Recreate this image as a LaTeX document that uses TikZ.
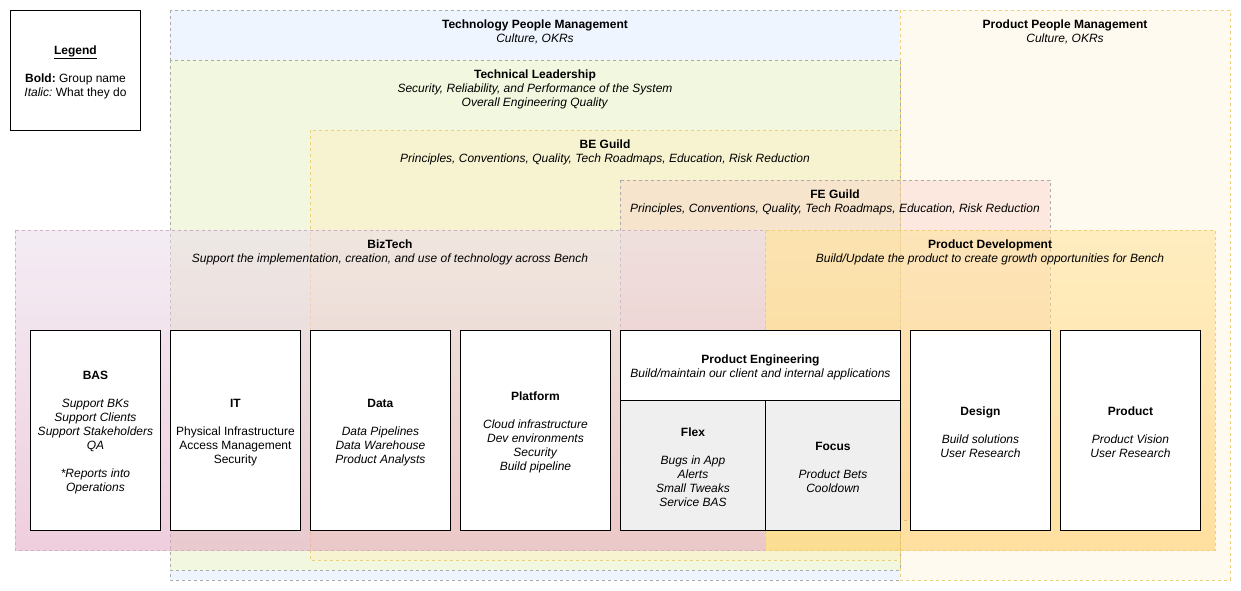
\documentclass[tikz,border=0pt]{standalone}
\usepackage{fontspec}
\setmainfont{Liberation Sans}
\usetikzlibrary{calc}
\frenchspacing
\definecolor{tpmfill}{HTML}{EEF5FE}
\definecolor{ppmfill}{HTML}{FFFAEF}
\definecolor{tlfill}{HTML}{F2F7DF}
\definecolor{begfill}{HTML}{FFF0C0}
\definecolor{fegfill}{HTML}{F8CFC8}
\definecolor{grayline}{HTML}{ABABAB}
\definecolor{yelline}{HTML}{EBD27A}
\definecolor{pinkline}{HTML}{CDB0C2}
\definecolor{btop}{HTML}{EADDEB}
\definecolor{bbot}{HTML}{E2A6C2}
\definecolor{pdtop}{HTML}{FFE39A}
\definecolor{pdbot}{HTML}{FFCB60}
\definecolor{subfill}{HTML}{EFEFEF}
\begin{document}
\begin{tikzpicture}[x=1pt,y=-1pt,
  region/.style={dashed, dash pattern=on 3pt off 3pt, line width=0.6pt},
  lbl/.style={align=center, inner sep=0pt, font=\fontsize{12}{14}\selectfont},
  box/.style={draw=black, fill=white, line width=0.9pt, inner sep=0pt, anchor=north west},
  subbox/.style={box, fill=subfill}
]
\useasboundingbox (0,0) rectangle (1241,591);
% regions
\path[region, fill=tpmfill, draw=grayline] (170,10) rectangle (900,580);
\path[region, fill=ppmfill, draw=yelline] (900,10) rectangle (1230,580);
\path[region, fill=tlfill, draw=grayline] (170,60) rectangle (900,570);
\path[region, fill=begfill, fill opacity=0.45, draw=yelline] (310,130) rectangle (900,560);
\path[region, fill=fegfill, fill opacity=0.4, draw=grayline] (620,180) rectangle (1050,520);
\path[region, top color=btop, bottom color=bbot, fill opacity=0.55, draw=pinkline] (15,230) rectangle (765,550);
\path[region, top color=pdtop, bottom color=pdbot, fill opacity=0.55, draw=yelline] (765,230) rectangle (1215,550);
% region labels
\node[lbl] (tpm) at (535,32) {\textbf{Technology People Management}\\\textit{Culture, OKRs}};
\node[lbl] (ppm) at (1065,32) {\textbf{Product People Management}\\\textit{Culture, OKRs}};
\node[lbl] (tl) at (535,89) {\textbf{Technical Leadership}\\\textit{Security, Reliability, and Performance of the System}\\\textit{Overall Engineering Quality}};
\node[lbl] (beg) at (605,152) {\textbf{BE Guild}\\\textit{Principles, Conventions, Quality, Tech Roadmaps, Education, Risk Reduction}};
\node[lbl] (feg) at (835,202) {\textbf{FE Guild}\\\textit{Principles, Conventions, Quality, Tech Roadmaps, Education, Risk Reduction}};
\node[lbl] (biz) at (390,252) {\textbf{BizTech}\\\textit{Support the implementation, creation, and use of technology across Bench}};
\node[lbl] (pd) at (990,252) {\textbf{Product Development}\\\textit{Build/Update the product to create growth opportunities for Bench}};
% legend
\node[box, minimum width=130, minimum height=120] (legend) at (10,10) {};
\node[lbl] (legendtext) at ($(legend.center)+(0,2)$) {\textbf{\underline{Legend}}\\[14pt]\textbf{Bold:} Group name\\\textit{Italic:} What they do};
% team boxes
\node[box, minimum width=130, minimum height=200] (bas) at (30,330) {};
\node[lbl] (bastext) at ($(bas.center)+(0,2)$) {\textbf{BAS}\\[14pt]\textit{Support BKs}\\\textit{Support Clients}\\\textit{Support Stakeholders}\\\textit{QA}\\[14pt]\textit{*Reports into}\\\textit{Operations}};
\node[box, minimum width=130, minimum height=200] (it) at (170,330) {};
\node[lbl] (ittext) at ($(it.center)+(0,2)$) {\textbf{IT}\\[14pt]Physical Infrastructure\\Access Management\\Security};
\node[box, minimum width=140, minimum height=200] (data) at (310,330) {};
\node[lbl] (datatext) at ($(data.center)+(0,2)$) {\textbf{Data}\\[14pt]\textit{Data Pipelines}\\\textit{Data Warehouse}\\\textit{Product Analysts}};
\node[box, minimum width=150, minimum height=200] (platform) at (460,330) {};
\node[lbl] (platformtext) at ($(platform.center)+(0,2)$) {\textbf{Platform}\\[14pt]\textit{Cloud infrastructure}\\\textit{Dev environments}\\\textit{Security}\\\textit{Build pipeline}};
\node[box, minimum width=280, minimum height=70] (pe) at (620,330) {};
\node[lbl] (petext) at ($(pe.center)+(0,2)$) {\textbf{Product Engineering}\\\textit{Build/maintain our client and internal applications}};
\node[subbox, minimum width=145, minimum height=130] (flex) at (620,400) {};
\node[lbl] (flextext) at ($(flex.center)+(0,2)$) {\textbf{Flex}\\[14pt]\textit{Bugs in App}\\\textit{Alerts}\\\textit{Small Tweaks}\\\textit{Service BAS}};
\node[subbox, minimum width=135, minimum height=130] (focus) at (765,400) {};
\node[lbl] (focustext) at ($(focus.center)+(0,2)$) {\textbf{Focus}\\[14pt]\textit{Product Bets}\\\textit{Cooldown}};
\node[box, minimum width=140, minimum height=200] (design) at (910,330) {};
\node[lbl] (designtext) at ($(design.center)+(0,2)$) {\textbf{Design}\\[14pt]\textit{Build solutions}\\\textit{User Research}};
\node[box, minimum width=140, minimum height=200] (product) at (1060,330) {};
\node[lbl] (producttext) at ($(product.center)+(0,2)$) {\textbf{Product}\\[14pt]\textit{Product Vision}\\\textit{User Research}};
\end{tikzpicture}
\end{document}
